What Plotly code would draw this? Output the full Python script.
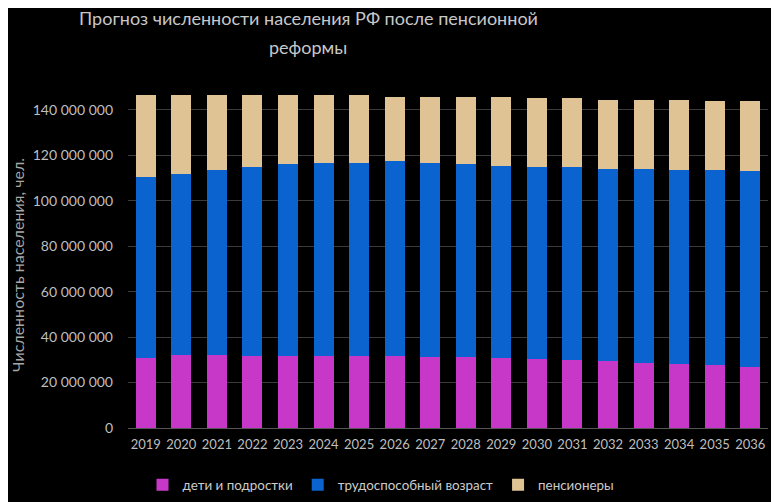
import plotly.graph_objects as go

# Прогноз численности населения РФ, млн чел.
years = [str(y) for y in range(2019, 2037)]

children = [31.0, 31.9, 31.9, 31.7, 31.8, 31.8, 31.8, 31.8, 31.3,
            31.3, 30.6, 30.5, 29.9, 29.4, 28.7, 28.1, 27.7, 26.9]
working = [79.4, 80.0, 81.8, 83.1, 84.2, 84.9, 84.9, 85.5, 85.3,
           84.7, 84.7, 84.3, 84.9, 84.7, 85.4, 85.5, 85.9, 86.1]
pensioners = [35.9, 34.4, 32.6, 31.5, 30.3, 29.6, 29.6, 28.3, 29.0,
              29.8, 30.3, 30.5, 30.5, 30.4, 30.4, 30.9, 30.4, 31.0]

series_names = ["дети и подростки", "трудоспособный возраст", "пенсионеры"]
tick_vals = [0, 20e6, 40e6, 60e6, 80e6, 100e6, 120e6, 140e6]

title_lines = ["Прогноз численности населения РФ после пенсионной", "реформы"]
y_title = "Численность населения, чел."

colors = ["#C838C8", "#0A63CE", "#E0C395"]
font_family = "Lato, Open Sans, sans-serif"
text_color = "#bfbfbf"

# the page body has an 8px margin, so the figure is drawn 8px smaller
W, H = 771, 494

fig = go.Figure()
for name, vals, color in zip(series_names, [children, working, pensioners], colors):
    fig.add_trace(go.Bar(
        x=years,
        y=[v * 1e6 for v in vals],
        name=name,
        marker=dict(color=color, line=dict(width=0)),
    ))

# title as two lines so the line spacing matches
fig.add_annotation(text=title_lines[0], xref="paper", yref="paper",
                   x=(300 - 120) / 640, y=1 + (79 - 10) / 341,
                   xanchor="center", yanchor="middle", showarrow=False,
                   font=dict(size=18, color="#c8c8c8"))
fig.add_annotation(text=title_lines[1], xref="paper", yref="paper",
                   x=(300 - 120) / 640, y=1 + (79 - 39) / 341,
                   xanchor="center", yanchor="middle", showarrow=False,
                   font=dict(size=18, color="#c8c8c8"))
# y axis title
fig.add_annotation(text=y_title, xref="paper", yref="paper",
                   x=-(120 - 9) / 640, y=(420 - 257) / 341,
                   xanchor="center", yanchor="middle", textangle=-90,
                   showarrow=False, font=dict(size=16, color="#a8a8a8"))

fig.update_layout(
    barmode="stack",
    bargap=0.44,
    width=W,
    height=H,
    paper_bgcolor="black",
    plot_bgcolor="black",
    separators=", ",
    font=dict(family=font_family, color=text_color, size=13),
    margin=dict(l=120, r=11, t=79, b=74),
    xaxis=dict(
        showgrid=False,
        showline=False,
        ticks="",
        automargin=False,
        ticklabelstandoff=7,
        tickfont=dict(size=13, color=text_color),
    ),
    yaxis=dict(
        range=[0, 150e6],
        tickvals=tick_vals,
        tickformat=",d",
        showgrid=True,
        gridcolor="#3a3a3a",
        gridwidth=1,
        zeroline=True,
        zerolinecolor="#555555",
        zerolinewidth=1,
        ticks="",
        automargin=False,
        ticklabelstandoff=14,
        tickfont=dict(size=14, color=text_color),
    ),
    legend=dict(
        orientation="h",
        traceorder="normal",
        x=373 / W, xref="container", xanchor="center",
        y=1 - 477 / H, yref="container", yanchor="middle",
        font=dict(size=13.4, color="#cccccc"),
        itemwidth=30,
    ),
    showlegend=True,
)

fig.write_html("out.html")
